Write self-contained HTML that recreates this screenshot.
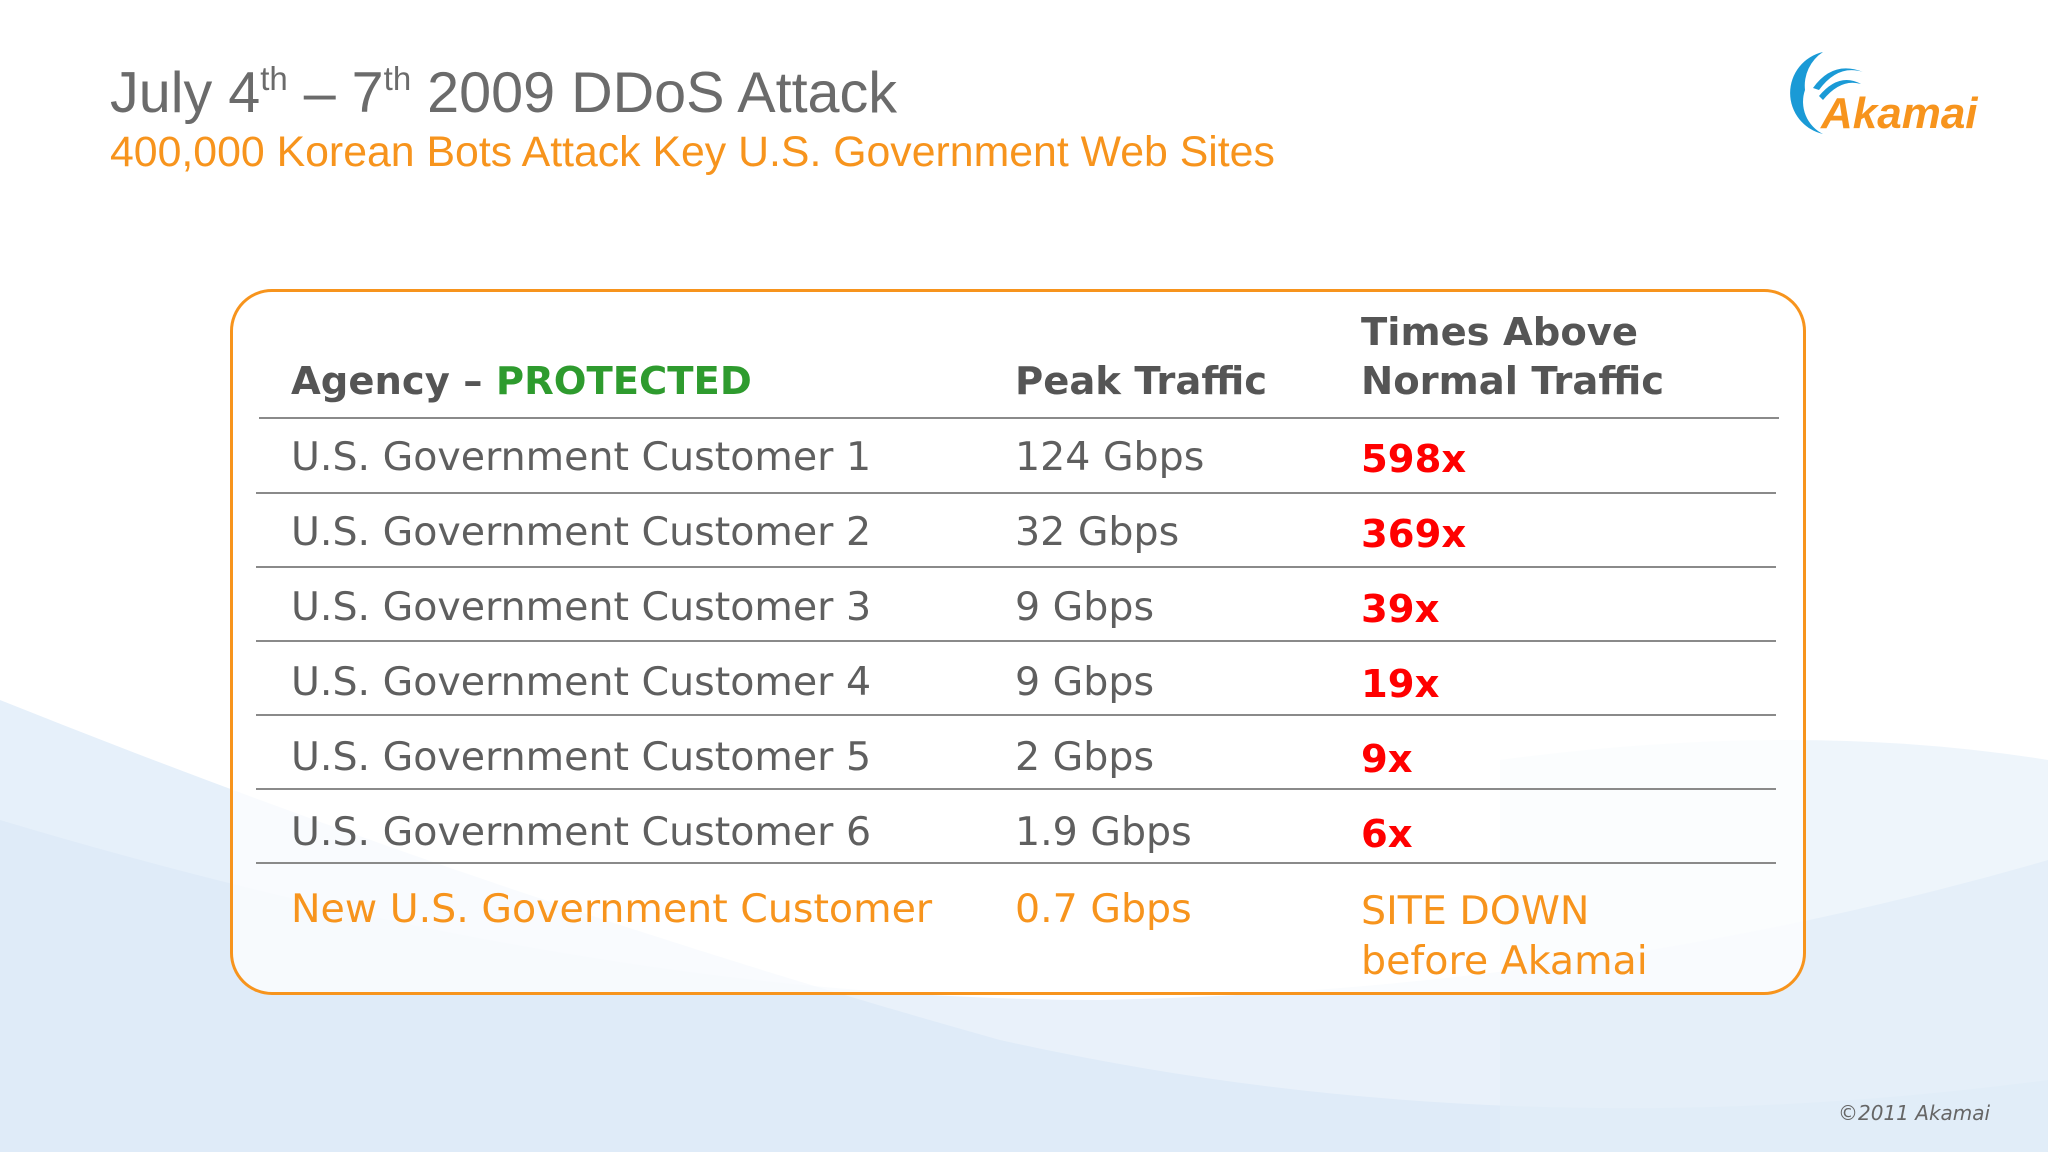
<!DOCTYPE html>
<html><head><meta charset="utf-8"><style>
body{margin:0;width:2048px;height:1152px;overflow:hidden;position:relative;font-family:"DejaVu Sans","Liberation Sans",sans-serif;background:#fff}
.bg{position:absolute;left:0;top:0;width:2048px;height:1152px}
.t{position:absolute;white-space:nowrap;line-height:1}
.title{left:110px;top:65px;font-family:"Liberation Sans",sans-serif;font-size:57.5px;color:#6b6b6b}
.title sup{font-size:33px;vertical-align:22px;line-height:0}
.sub{left:110px;top:131px;font-family:"Liberation Sans",sans-serif;font-size:42.8px;color:#f7941d}
.box{position:absolute;left:230px;top:289px;width:1570px;height:700px;border:3px solid #f7941d;border-radius:42px;background:rgba(255,255,255,.75)}
.hd{font-weight:bold;font-size:38.5px;color:#555}
.c{font-size:39.5px;color:#5f5f5f}
.r{font-weight:bold;font-size:38.5px;color:#f00}
.o{font-size:39.5px;color:#f7941d}
.ln{position:absolute;height:2px;background:#8a8a8a}
</style></head><body>
<svg class="bg" viewBox="0 0 2048 1152">
<path d="M0 700 Q500 900 1000 1040 Q1500 1152 2048 1080 L2048 1152 L0 1152Z" fill="#e6f0fa"/>
<path d="M0 820 Q600 1000 1100 1000 Q1600 990 2048 860 L2048 1152 L0 1152Z" fill="#dbe8f6" opacity=".6"/>
<path d="M1500 760 Q1800 720 2048 760 L2048 1152 L1500 1152Z" fill="#e3eef8" opacity=".6"/>
</svg>
<div class="t title">July 4<sup>th</sup> – 7<sup>th</sup> 2009 DDoS Attack</div>
<div class="t sub">400,000 Korean Bots Attack Key U.S. Government Web Sites</div>
<svg style="position:absolute;left:1783px;top:50px" width="210" height="86">
<path d="M40 2 A42 42 0 0 0 40 84 A36 36 0 0 1 22 40 A40 40 0 0 1 40 2Z" fill="#1a9ad6"/>
<path d="M30 38 Q50 10 80 22 Q55 14 36 40Z" fill="#1a9ad6"/>
<path d="M36 46 Q56 22 78 34 Q58 28 40 50Z" fill="#1a9ad6"/>
<text x="38" y="78" font-family="Liberation Sans" font-weight="bold" font-style="italic" font-size="44" fill="#f7941d">Akamai</text>
</svg>
<div class="box"></div>
<div class="t hd" style="left:291px;top:363px">Agency – <span style="color:#2e9b2e">PROTECTED</span></div>
<div class="t hd" style="left:1015px;top:363px">Peak Traffic</div>
<div class="t hd" style="left:1361px;top:314px">Times Above</div>
<div class="t hd" style="left:1361px;top:363px">Normal Traffic</div>
<div class="ln" style="left:259px;width:1520px;top:417px"></div>
<div id="rows"></div>
<div class="t o" style="left:291px;top:890px">New U.S. Government Customer</div>
<div class="t o" style="left:1015px;top:890px">0.7 Gbps</div>
<div class="t o" style="left:1361px;top:892px">SITE DOWN</div>
<div class="t o" style="left:1361px;top:942px">before Akamai</div>
<div class="t" style="left:1838px;top:1103px;font-size:20px;font-style:italic;color:#666">©2011 Akamai</div>
<script>
const customers=["U.S. Government Customer 1","U.S. Government Customer 2","U.S. Government Customer 3","U.S. Government Customer 4","U.S. Government Customer 5","U.S. Government Customer 6"];
const peaks=["124 Gbps","32 Gbps","9 Gbps","9 Gbps","2 Gbps","1.9 Gbps"];
const times=["598x","369x","39x","19x","9x","6x"];
const c=document.getElementById('rows');
customers.forEach((n,i)=>{
 const y=438+i*75;
 const a=document.createElement('div');a.className='t c';a.style.cssText=`left:291px;top:${y}px`;a.textContent=n;
 
 c.appendChild(a);
 const b=document.createElement('div');b.className='t c';b.style.cssText=`left:1015px;top:${y}px`;b.textContent=peaks[i];
 
 c.appendChild(b);
 const d=document.createElement('div');d.className='t r';d.style.cssText=`left:1361px;top:${y+3}px`;d.textContent=times[i];
 
 c.appendChild(d);
 const l=document.createElement('div');l.className='ln';l.style.cssText=`left:256px;width:1520px;top:${492+i*74}px`;
 
 c.appendChild(l);
});
</script>
</body></html>
